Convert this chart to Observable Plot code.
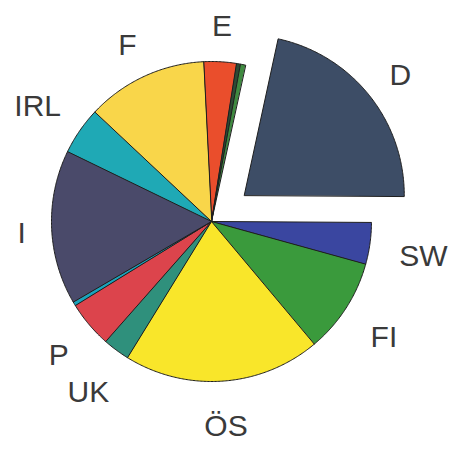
<!DOCTYPE html>
<html><head><meta charset="utf-8">
<script src="https://cdn.jsdelivr.net/npm/d3@7"></script>
<script src="https://cdn.jsdelivr.net/npm/@observablehq/plot@0.6"></script>
<style>body{margin:0;background:#fff}</style>
</head><body><div id="chart"></div>
<script>
// Slices in clockwise order starting just left of 12 o'clock
const countries = ["E", "s1", "s2", "D", "SW", "FI", "ÖS", "UK", "P", "s3", "I", "IRL", "F"];
const shares    = [3.3, 0.4, 0.5, 21.7, 4.2, 9.6, 19.9, 2.7, 4.7, 0.4, 15.6, 4.8, 12.2];
const labels    = ["E", "", "", "D", "SW", "FI", "ÖS", "UK", "P", "", "I", "IRL", "F"];
const colors    = ["#ea4e2c", "#2c4a34", "#3f8a40", "#3d4d66", "#3a46a0", "#3a9a3c", "#f9e62a",
                   "#2f907c", "#dc444c", "#1aa3bb", "#4a4a6a", "#1fa9b5", "#f9d64a"];
const explodedSlices = ["D"];

// layout
const R = 160, labelR = 200, explode = 42, labelDy = 5;
const labelRadius = {SW: 214, IRL: 211, I: 190, UK: 207, FI: 205};
const startDeg = -2.9;

const data = countries.map((c, i) => ({name: c, share: shares[i], label: labels[i]}));
const arcs = d3.pie().sort(null).value(d => d.share)
  .startAngle(startDeg * Math.PI / 180)
  .endAngle(startDeg * Math.PI / 180 + 2 * Math.PI)(data);

const pts = [];
const lbls = [];
for (const a of arcs) {
  const mid = (a.startAngle + a.endAngle) / 2;
  const off = explodedSlices.includes(a.data.name) ? explode : 0;
  const cx = Math.sin(mid) * off, cy = -Math.cos(mid) * off;
  pts.push({name: a.data.name, x: cx, y: cy});
  const n = Math.max(2, Math.ceil((a.endAngle - a.startAngle) / (0.5 * Math.PI / 180)));
  for (let k = 0; k <= n; k++) {
    const t = a.startAngle + (a.endAngle - a.startAngle) * k / n;
    pts.push({name: a.data.name, x: cx + Math.sin(t) * R, y: cy - Math.cos(t) * R});
  }
  if (a.data.label) {
    const lr = labelRadius[a.data.label] ?? labelR;
    lbls.push({label: a.data.label, x: cx + Math.sin(mid) * lr, y: cy - Math.cos(mid) * lr});
  }
}

const chart = Plot.plot({
  width: 456, height: 450, margin: 0,
  x: {domain: [-211, 245], range: [0, 456], axis: null},
  y: {domain: [-221, 229], range: [0, 450], axis: null},
  color: {domain: countries, range: colors},
  marks: [
    Plot.line(pts, {x: "x", y: "y", z: "name", fill: "name", stroke: "#1e1e1e", strokeWidth: 1, curve: "linear-closed"}),
    Plot.text(lbls, {x: "x", y: "y", text: "label", fontSize: 30, fill: "#3a3a3a", dy: labelDy,
      fontFamily: "Liberation Sans, Arial, sans-serif", textAnchor: "middle", lineAnchor: "middle"})
  ]
});
document.getElementById("chart").appendChild(chart);
</script>
</body></html>
